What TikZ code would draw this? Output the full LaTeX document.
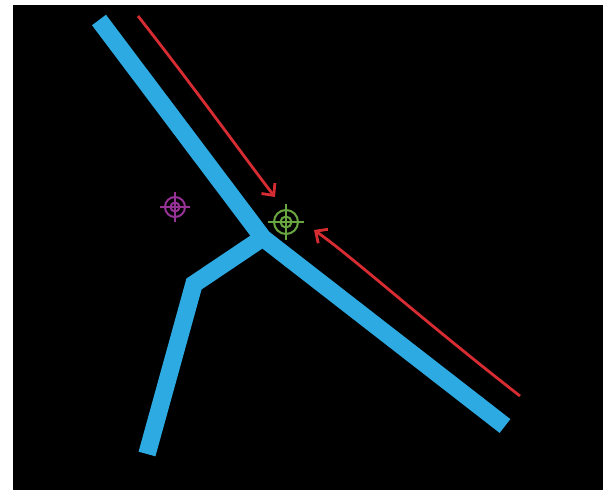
\documentclass[tikz,border=0pt]{standalone}
\usetikzlibrary{arrows.meta,calc}
\definecolor{pipeblue}{RGB}{45,170,225}
\definecolor{arrred}{RGB}{215,45,50}
\definecolor{tgpurple}{RGB}{150,50,150}
\definecolor{tggreen}{RGB}{105,165,65}
\tikzset{
  pipe/.style={line width=17.5pt, draw=pipeblue, line join=miter},
  flow/.style={line width=2.8pt, draw=arrred, -{Straight Barb[length=9pt,width=17pt,line width=2.8pt]}},
  target/.style={line width=2pt}
}
\begin{document}
\begin{tikzpicture}[x=1pt,y=-1pt]
\useasboundingbox (0,0) rectangle (603,490);
\fill[white] (0,0) rectangle (603,490);
\fill[black] (13,5) rectangle (603,490);
% coordinates
\coordinate (top) at (99,20);
\coordinate (junc) at (263,238);
\coordinate (lowend) at (505,426);
\coordinate (brstart) at (258,241);
\coordinate (brbend) at (194,284);
\coordinate (brend) at (147,454);
% pipes
\draw[pipe] (top) -- (junc) -- (lowend);
\draw[pipe] (brstart) -- (brbend) -- (brend);
% arrows
\coordinate (a1s) at (138,16);
\coordinate (a1e) at (275,197);
\coordinate (a2s) at (520,396);
\coordinate (a2e) at (314,230);
\draw[flow] (a1s) .. controls (200,95) and (250,165) .. (a1e);
\draw[flow] (a2s) .. controls (420,318) and (350,255) .. (a2e);
% targets
\coordinate (tp) at (175,207);
\coordinate (tg) at (286,222);
\begin{scope}[target, draw=tgpurple]
  \draw (tp) circle (10);
  \draw (tp) circle (4.5);
  \draw[line width=1.4pt] ($(tp)+(-15,0)$) -- ($(tp)+(15,0)$);
  \draw[line width=1.4pt] ($(tp)+(0,-15)$) -- ($(tp)+(0,15)$);
\end{scope}
\begin{scope}[target, draw=tggreen]
  \draw (tg) circle (12);
  \draw (tg) circle (5.5);
  \draw[line width=1.4pt] ($(tg)+(-18,0)$) -- ($(tg)+(18,0)$);
  \draw[line width=1.4pt] ($(tg)+(0,-18)$) -- ($(tg)+(0,18)$);
\end{scope}
\end{tikzpicture}
\end{document}
